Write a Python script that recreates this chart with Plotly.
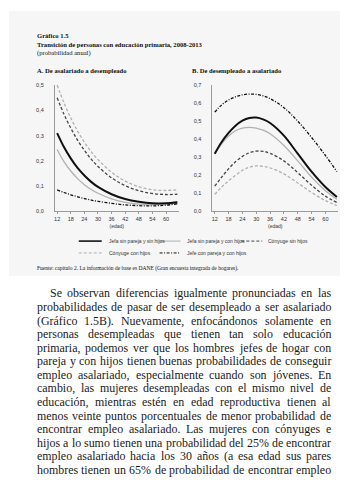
import plotly.graph_objects as go

W, H = 360, 480

# ---------------- data ----------------
ages_a = [12, 15, 18, 21, 24, 27, 30, 36, 42, 48, 54, 60, 65]
jefa_sin_sin_a = [0.31, 0.255, 0.21, 0.172, 0.142, 0.117, 0.097, 0.068, 0.049, 0.038, 0.032, 0.032, 0.036]
jefa_sin_con_a = [0.245, 0.197, 0.16, 0.13, 0.106, 0.087, 0.072, 0.05, 0.036, 0.029, 0.027, 0.029, 0.033]
conyuge_sin_a = [0.45, 0.385, 0.33, 0.282, 0.242, 0.207, 0.178, 0.133, 0.102, 0.082, 0.071, 0.067, 0.068]
conyuge_con_a = [0.50, 0.43, 0.37, 0.318, 0.274, 0.237, 0.205, 0.155, 0.12, 0.098, 0.086, 0.083, 0.086]
jefe_con_con_a = [0.085, 0.075, 0.066, 0.058, 0.051, 0.045, 0.04, 0.032, 0.026, 0.023, 0.022, 0.025, 0.03]

ages_b = [12, 15, 18, 21, 24, 27, 30, 33, 36, 42, 48, 54, 60, 65]
jefe_con_con_b = [0.55, 0.59, 0.617, 0.635, 0.646, 0.65, 0.648, 0.64, 0.625, 0.575, 0.5, 0.41, 0.31, 0.22]
jefa_sin_sin_b = [0.32, 0.385, 0.435, 0.475, 0.503, 0.518, 0.52, 0.51, 0.49, 0.42, 0.32, 0.22, 0.135, 0.08]
jefa_sin_con_b = [0.32, 0.375, 0.418, 0.447, 0.462, 0.466, 0.462, 0.45, 0.43, 0.365, 0.28, 0.19, 0.115, 0.068]
conyuge_sin_b = [0.14, 0.19, 0.236, 0.275, 0.305, 0.325, 0.334, 0.333, 0.322, 0.28, 0.215, 0.145, 0.085, 0.05]
conyuge_con_b = [0.095, 0.135, 0.17, 0.2, 0.228, 0.245, 0.252, 0.25, 0.242, 0.208, 0.158, 0.105, 0.06, 0.033]

x_ticks = [12, 18, 24, 30, 36, 42, 48, 54, 60]
x_ticklabels = [str(v) for v in x_ticks]
ya_ticks = [0, 0.1, 0.2, 0.3, 0.4, 0.5]
ya_ticklabels = ["0,0", "0,1", "0,2", "0,3", "0,4", "0,5"]
yb_ticks = [0, 0.1, 0.2, 0.3, 0.4, 0.5, 0.6, 0.7]
yb_ticklabels = ["0,0", "0,1", "0,2", "0,3", "0,4", "0,5", "0,6", "0,7"]

series_names = ["Jefa sin pareja y sin hijos", "Jefa sin pareja y con hijos",
                "Cónyuge sin hijos", "Cónyuge con hijos", "Jefe con pareja y con hijos"]

body_lines = [
    "Se observan diferencias igualmente pronunciadas en las",
    "probabilidades de pasar de ser desempleado a ser asalariado",
    "(Gráfico 1.5B). Nuevamente, enfocándonos solamente en",
    "personas desempleadas que tienen tan solo educación",
    "primaria, podemos ver que los hombres jefes de hogar con",
    "pareja y con hijos tienen buenas probabilidades de conseguir",
    "empleo asalariado, especialmente cuando son jóvenes. En",
    "cambio, las mujeres desempleadas con el mismo nivel de",
    "educación, mientras estén en edad reproductiva tienen al",
    "menos veinte puntos porcentuales de menor probabilidad de",
    "encontrar empleo asalariado. Las mujeres con cónyuges e",
    "hijos a lo sumo tienen una probabilidad del 25% de encontrar",
    "empleo asalariado hacia los 30 años (a esa edad sus pares",
    "hombres tienen un 65% de probabilidad de encontrar empleo",
]

# ---------------- styles ----------------
styles = [
    dict(color="#111111", width=2.0, dash="solid"),
    dict(color="#b0b0b0", width=1.3, dash="solid"),
    dict(color="#444444", width=1.3, dash="3px,2px"),
    dict(color="#b0b0b0", width=1.3, dash="3px,2px"),
    dict(color="#111111", width=1.3, dash="3px,1.5px,1px,1.5px"),
]


def px_x(p):
    return p / W


def px_y(p):
    return 1 - p / H


fig = go.Figure()

series_a = [jefa_sin_sin_a, jefa_sin_con_a, conyuge_sin_a, conyuge_con_a, jefe_con_con_a]
series_b = [jefa_sin_sin_b, jefa_sin_con_b, conyuge_sin_b, conyuge_con_b, jefe_con_con_b]
order = [3, 2, 1, 0, 4]
for i in order:
    fig.add_trace(go.Scatter(x=ages_a, y=series_a[i], mode="lines", line_shape="spline",
                             line=styles[i], name=series_names[i], showlegend=False,
                             xaxis="x", yaxis="y"))
for i in order:
    fig.add_trace(go.Scatter(x=ages_b, y=series_b[i], mode="lines", line_shape="spline",
                             line=styles[i], name=series_names[i], showlegend=False,
                             xaxis="x2", yaxis="y2"))

tickfont = dict(family="Liberation Sans", size=5.5, color="#333333")
axis_common = dict(showgrid=False, zeroline=False, showline=True, linecolor="#9a9a9a",
                   linewidth=1, tickfont=tickfont, fixedrange=True)
ydom = [px_y(203), px_y(75)]
edad_font = dict(family="Liberation Sans", size=5, color="#333")

fig.update_layout(
    width=W, height=H, autosize=False,
    margin=dict(l=0, r=0, t=0, b=0),
    paper_bgcolor="white", plot_bgcolor="rgba(0,0,0,0)",
    showlegend=False,
    xaxis=dict(domain=[px_x(46), px_x(170)], range=[11, 65.5], tickvals=x_ticks,
               ticktext=x_ticklabels, ticks="outside", ticklen=2, tickcolor="#9a9a9a",
               anchor="y", title=dict(text="(edad)", font=edad_font, standoff=3),
               **axis_common),
    yaxis=dict(domain=ydom, range=[0, 0.5], tickvals=ya_ticks, ticktext=ya_ticklabels,
               ticks="outside", ticklen=9, tickcolor="rgba(0,0,0,0)", anchor="x", **axis_common),
    xaxis2=dict(domain=[px_x(204), px_x(330)], range=[11, 65.5], tickvals=x_ticks,
                ticktext=x_ticklabels, ticks="outside", ticklen=2, tickcolor="#9a9a9a",
                anchor="y2", title=dict(text="(edad)", font=edad_font, standoff=3),
                **axis_common),
    yaxis2=dict(domain=ydom, range=[0, 0.7], tickvals=yb_ticks, ticktext=yb_ticklabels,
                ticks="outside", ticklen=9, tickcolor="rgba(0,0,0,0)", anchor="x2", **axis_common),
)

shapes = []
# light page tint behind the figure block
shapes.append(dict(type="rect", xref="paper", yref="paper", x0=px_x(0), x1=px_x(332),
                   y0=px_y(268), y1=px_y(0), fillcolor="#f6f6f6", line=dict(width=0), layer="below"))

annotations = []


def text_ann(x, y, text, size, family="Liberation Serif", color="#111", xanchor="left"):
    annotations.append(dict(x=px_x(x), y=px_y(y), xref="paper", yref="paper", text=text,
                            showarrow=False, xanchor=xanchor, yanchor="middle",
                            font=dict(family=family, size=size, color=color), borderpad=0))


text_ann(27, 25, "<b>Gráfico 1.5</b>", 6.6)
text_ann(27, 34, "<b>Transición de personas con educación primaria, 2008-2013</b>", 6.6)
text_ann(27, 43, "(probabilidad anual)", 6.6)
text_ann(27, 60, "<b>A. De asalariado a desempleado</b>", 6.6)
text_ann(183, 60, "<b>B. De desempleado a asalariado</b>", 6.6)
text_ann(27, 261, "Fuente: capítulo 2. La información de base es DANE (Gran encuesta integrada de hogares).", 5.5)

# legend (drawn manually)
leg_pos = [(70, 233, 93, 99), (151, 233, 172, 177), (233, 233, 254, 259),
           (70, 245, 93, 99), (151, 245, 172, 177)]
for i, (x0, y0, x1, tx) in enumerate(leg_pos):
    st = styles[i]
    shapes.append(dict(type="line", xref="paper", yref="paper", x0=px_x(x0), x1=px_x(x1),
                       y0=px_y(y0), y1=px_y(y0),
                       line=dict(color=st["color"], width=max(1.0, st["width"] - 0.4), dash=st["dash"])))
    text_ann(tx, y0, series_names[i], 5, family="Liberation Sans", color="#333")

# body text, justified word by word (Times/Liberation Serif metrics)
cw = {" ": 250, "a": 444, "b": 500, "c": 444, "d": 500, "e": 444, "f": 333, "g": 500, "h": 500,
      "i": 278, "j": 278, "k": 500, "l": 278, "m": 778, "n": 500, "o": 500, "p": 500, "q": 500,
      "r": 333, "s": 389, "t": 278, "u": 500, "v": 500, "w": 722, "x": 500, "y": 500, "z": 444,
      "á": 444, "é": 444, "í": 278, "ó": 500, "ú": 500, "ñ": 500,
      "A": 722, "B": 667, "C": 667, "D": 722, "E": 611, "F": 556, "G": 722, "H": 722, "I": 333,
      "L": 611, "M": 889, "N": 722, "P": 556, "S": 556, "T": 611,
      ".": 250, ",": 250, "(": 333, ")": 333, "%": 833, "-": 333}


def wwidth(word):
    return sum(cw.get(c, 500) for c in word) / 1000.0


left, right, indent = 27.0, 322.0, 13.0
ratios = []
for k, line in enumerate(body_lines):
    words = line.split(" ")
    avail = right - left - (indent if k == 0 else 0)
    nat = sum(wwidth(w) for w in words) + 0.25 * (len(words) - 1)
    ratios.append(avail / nat)
fsize = min(ratios) * 0.995

y0b, dy = 286.0, 13.75
for k, line in enumerate(body_lines):
    words = line.split(" ")
    start = left + (indent if k == 0 else 0)
    widths = [wwidth(w) * fsize for w in words]
    gap = (right - start - sum(widths)) / (len(words) - 1)
    x = start
    for w, wd in zip(words, widths):
        text_ann(x, y0b + k * dy, w, fsize, color="#1a1a1a")
        x += wd + gap

fig.update_layout(shapes=shapes, annotations=annotations)
fig.write_html("out.html")
